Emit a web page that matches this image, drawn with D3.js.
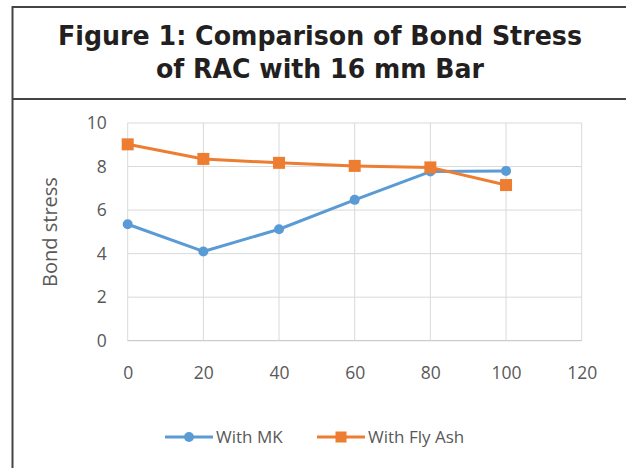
<!DOCTYPE html>
<html><head><meta charset="utf-8">
<script src="https://cdn.jsdelivr.net/npm/d3@7"></script>
<style>body{margin:0;background:#fff}svg{display:block}</style>
</head><body>
<svg id="c" width="626" height="468"></svg>
<script>
const titleLines = ["Figure 1: Comparison of Bond Stress", "of RAC with 16 mm Bar"];
const xValues = [0, 20, 40, 60, 80, 100];
const withMK = [5.35, 4.1, 5.12, 6.47, 7.77, 7.8];
const withFlyAsh = [9.02, 8.35, 8.17, 8.03, 7.96, 7.15];
const xTicks = [0, 20, 40, 60, 80, 100, 120];
const yTicks = [0, 2, 4, 6, 8, 10];
const seriesNames = ["With MK", "With Fly Ash"];
const yLabel = "Bond stress";

const svg = d3.select("#c");
const font = "'Open Sans', sans-serif";

// frame
svg.append("line").attr("x1",12.5).attr("x2",626).attr("y1",7).attr("y2",7).attr("stroke","#444").attr("stroke-width",2);
svg.append("line").attr("x1",12.5).attr("x2",626).attr("y1",99).attr("y2",99).attr("stroke","#444").attr("stroke-width",2);
svg.append("line").attr("x1",12.5).attr("x2",12.5).attr("y1",6).attr("y2",468).attr("stroke","#444").attr("stroke-width",2);

// title
const tw = [524, 328];
titleLines.forEach((t,i)=>{
  svg.append("text").attr("x",320).attr("y", i===0?45:78)
    .attr("text-anchor","middle").attr("font-family","'DejaVu Sans', Verdana, sans-serif")
    .attr("font-weight","bold").attr("font-size",26).attr("fill","#231f20")
    .attr("textLength", tw[i]).attr("lengthAdjust","spacingAndGlyphs").text(t);
});

const x = d3.scaleLinear().domain([0,120]).range([127.7,581.7]);
const y = d3.scaleLinear().domain([0,10]).range([340.7,123]);

// grid
const g = svg.append("g");
g.selectAll(".hg").data(yTicks).join("line")
  .attr("x1",x(0)).attr("x2",x(120)).attr("y1",d=>y(d)).attr("y2",d=>y(d))
  .attr("stroke",d=>d===0?"#bfbfbf":"#d9d9d9").attr("stroke-width",1);
g.selectAll(".vg").data(xTicks).join("line")
  .attr("x1",d=>x(d)).attr("x2",d=>x(d)).attr("y1",y(0)).attr("y2",y(10))
  .attr("stroke","#d9d9d9").attr("stroke-width",1);

// axes via d3 axis (labels only)
const yAxis = svg.append("g").attr("transform",`translate(${x(0)-21},0)`)
  .call(d3.axisLeft(y).tickValues(yTicks).tickSize(0).tickPadding(0));
yAxis.select(".domain").remove();
yAxis.selectAll("text").attr("font-family",font).attr("font-size",17.5).attr("fill","#595959");

const xAxis = svg.append("g").attr("transform",`translate(0,${y(0)+26})`)
  .call(d3.axisBottom(x).tickValues(xTicks).tickSize(0).tickPadding(0));
xAxis.select(".domain").remove();
xAxis.selectAll("text").attr("font-family",font).attr("font-size",17.5).attr("fill","#595959");

svg.append("text").attr("transform",`translate(57,232) rotate(-90)`)
  .attr("text-anchor","middle").attr("font-family",font).attr("font-size",20).attr("fill","#595959").text(yLabel);

const colors = ["#5b9bd5","#ed7d31"];
const line = d3.line().x(d=>x(d[0])).y(d=>y(d[1]));
const mkData = xValues.map((v,i)=>[v,withMK[i]]);
const faData = xValues.map((v,i)=>[v,withFlyAsh[i]]);

svg.append("path").datum(mkData).attr("d",line).attr("fill","none").attr("stroke",colors[0]).attr("stroke-width",3).attr("stroke-linejoin","round");
svg.selectAll(".mk").data(mkData).join("circle").attr("cx",d=>x(d[0])).attr("cy",d=>y(d[1])).attr("r",5).attr("fill",colors[0]);

svg.append("path").datum(faData).attr("d",line).attr("fill","none").attr("stroke",colors[1]).attr("stroke-width",3).attr("stroke-linejoin","round");
svg.selectAll(".fa").data(faData).join("rect").attr("x",d=>x(d[0])-6).attr("y",d=>y(d[1])-6).attr("width",12).attr("height",12).attr("fill",colors[1]);

// legend
const lg = svg.append("g");
const ly = 437;
const items = [{x0:165, x1:213, tx:216},{x0:317, x1:365, tx:368}];
items.forEach((it,i)=>{
  lg.append("line").attr("x1",it.x0).attr("x2",it.x1).attr("y1",ly).attr("y2",ly).attr("stroke",colors[i]).attr("stroke-width",3);
  if(i===0) lg.append("circle").attr("cx",(it.x0+it.x1)/2).attr("cy",ly).attr("r",5).attr("fill",colors[i]);
  else lg.append("rect").attr("x",(it.x0+it.x1)/2-5.5).attr("y",ly-5.5).attr("width",11).attr("height",11).attr("fill",colors[i]);
  lg.append("text").attr("x",it.tx).attr("y",ly+6).attr("font-family",font).attr("font-size",17).attr("fill","#595959").text(seriesNames[i]);
});
</script>
</body></html>
